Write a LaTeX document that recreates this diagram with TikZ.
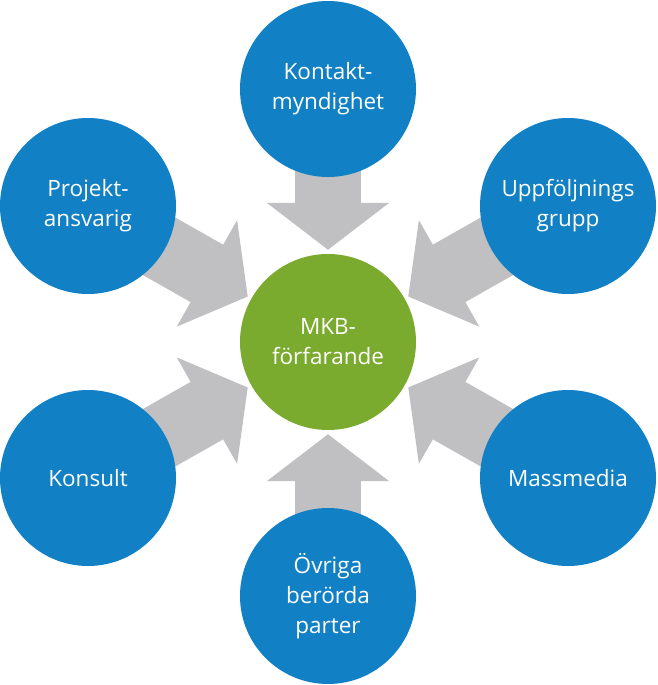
\documentclass[tikz,border=0pt]{standalone}
\usepackage{fontspec}
\setmainfont{Open Sans}
\usepackage{xcolor}
\usepackage{tikz}
\usetikzlibrary{arrows.meta,backgrounds}

\definecolor{partyblue}{RGB}{18,128,196}
\definecolor{mkbgreen}{RGB}{122,170,46}
\definecolor{arrowgray}{RGB}{192,192,195}

\begin{document}
\begin{tikzpicture}[x=1pt, y=-1pt, font=\fontsize{22.5}{30}\selectfont,
    party/.style={circle, fill=partyblue, text=white, minimum size=176pt, inner sep=0pt, align=center},
    bigarrow/.style={draw=arrowgray, line width=66pt, -{Triangle[length=47pt, width=120pt]}, shorten >=4pt, shorten <=-40pt}]
    \useasboundingbox (0, 0) rectangle (657, 685);

    % Center
    \node[party, fill=mkbgreen] (mkb) at (328, 342) {MKB-\\förfarande};

    % Parties
    \node[party] (kontakt) at (328, 89) {Kontakt-\\myndighet};
    \node[party] (projekt) at (88, 206) {Projekt-\\ansvarig};
    \node[party] (uppf) at (568, 206) {Uppföljnings\\grupp};
    \node[party] (konsult) at (88, 478) {Konsult};
    \node[party] (massmedia) at (568, 478) {Massmedia};
    \node[party] (ovriga) at (328, 596) {Övriga\\berörda\\parter};

    % Arrows
    \begin{pgfonlayer}{background}
        \foreach \p in {kontakt, projekt, uppf, konsult, massmedia, ovriga} {
            \draw[bigarrow] (\p) -- (mkb);
        }
    \end{pgfonlayer}
\end{tikzpicture}
\end{document}
